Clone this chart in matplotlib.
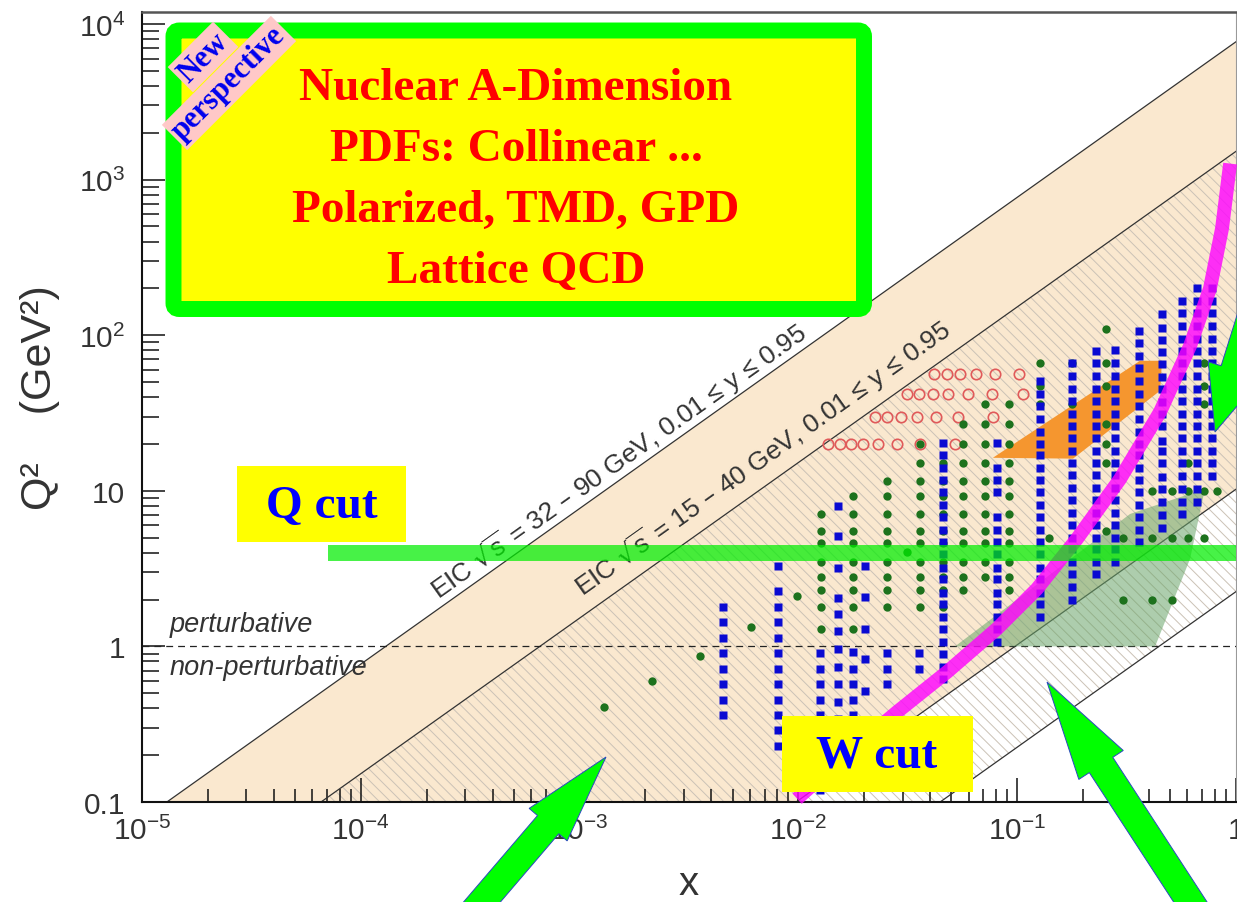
import numpy as np
import matplotlib.pyplot as plt
from matplotlib.patches import Polygon, Rectangle, FancyBboxPatch
from matplotlib.ticker import FixedLocator, FixedFormatter, LogLocator, NullFormatter

plt.rcParams['font.family'] = ['Liberation Sans', 'DejaVu Sans']
plt.rcParams['mathtext.default'] = 'regular'
plt.rcParams['hatch.linewidth'] = 0.7

# ---------------- data ----------------
sqrt_s_wide = [32, 90]      # GeV, outer EIC band
sqrt_s_narrow = [15, 40]    # GeV, inner EIC band
y_range = [0.01, 0.95]

# green dots: one column per x, list of Q^2 values
green_x = [0.00129, 0.00214, 0.00355, 0.00607, 0.0099, 0.0127, 0.0178, 0.0254,
           0.0313, 0.036, 0.046, 0.0565, 0.0713, 0.0918, 0.127, 0.14, 0.178,
           0.255, 0.305, 0.413, 0.509, 0.604, 0.714, 0.818]
green_q2 = [
    [0.41], [0.60], [0.87], [1.33], [2.1],
    [7.1, 5.5, 4.6, 3.5, 2.8, 2.3, 1.8, 1.3],
    [9.2, 7.1, 5.5, 4.6, 3.5, 2.8, 2.3, 1.8, 1.3],
    [11.6, 9.2, 7.1, 5.5, 4.6, 3.5, 2.8, 2.3, 1.8],
    [4.05],
    [20, 15, 11.6, 9.2, 7.1, 5.5, 4.6, 3.5, 2.8, 2.3, 1.8],
    [15, 11.6, 9.2, 7.1, 5.5, 4.6, 3.5, 2.8, 2.3, 1.8],
    [27, 20, 15, 11.6, 9.2, 7.1, 5.5, 4.6, 3.5, 2.8, 2.3],
    [36, 27, 20, 15, 11.6, 9.2, 7.1, 5.5, 4.6, 3.5, 2.8],
    [36, 27, 20, 15, 11.6, 9.2, 7.1, 5.5, 4.6, 3.5, 2.8, 2.3],
    [66, 47, 36],
    [5.0],
    [66, 36],
    [110, 66, 47, 27, 20, 15, 5.5],
    [5.0, 2.0],
    [10, 5.0, 2.0],
    [10, 5.0, 2.0],
    [15, 10, 5.0],
    [66, 47, 36, 10, 5.0],
    [10],
]

# blue squares
blue_x = [0.0045, 0.0081, 0.0126, 0.0152, 0.0178, 0.0201, 0.0254, 0.0356, 0.0458,
          0.0809, 0.127, 0.178, 0.229, 0.280, 0.361, 0.459, 0.566, 0.664, 0.776]
blue_q2 = [
    [1.79, 1.44, 1.13, 0.91, 0.72, 0.57, 0.45, 0.36],
    [3.3, 2.27, 1.79, 1.44, 1.13, 0.91, 0.72, 0.57, 0.45, 0.36, 0.29, 0.23],
    [0.91, 0.72, 0.57, 0.45, 0.36, 0.29, 0.23, 0.19, 0.15, 0.12],
    [8.0, 5.1, 3.2, 2.05, 1.62, 1.26, 0.96, 0.74, 0.57, 0.44, 0.34, 0.25, 0.19, 0.14],
    [0.92, 0.72, 0.57, 0.45, 0.36, 0.29, 0.23, 0.19, 0.15],
    [3.3, 2.08, 1.30, 0.83, 0.52],
    [0.91, 0.72, 0.57],
    [0.91, 0.72],
    [20.4, 17.0, 14.1, 11.7, 9.8, 8.1, 6.8, 5.6, 4.7, 3.9, 3.2, 2.7, 2.2, 1.86,
     1.55, 1.29, 1.07, 0.89, 0.74, 0.62],
    [20.4, 14.1, 11.7, 9.8, 6.8, 5.6, 4.7, 3.9, 3.2, 2.7, 2.2, 1.86, 1.55, 1.29, 1.07],
    [51, 42, 35, 29, 24, 20, 17, 14, 11.7, 9.8, 8.1, 6.8, 5.6, 4.7, 3.9, 3.2,
     2.7, 2.2, 1.86, 1.55],
    [66, 55, 45, 38, 31, 26, 22, 18, 15, 12.6, 10.5, 8.7, 7.2, 6.0, 5.0, 4.2,
     3.5, 2.9, 2.4, 2.0],
    [79, 66, 55, 45, 38, 31, 26, 22, 18, 15, 12.6, 10.5, 8.7, 7.2, 6.0, 5.0, 4.2, 3.5, 2.9],
    [80, 66, 55, 45, 38, 31, 26, 22, 18, 15, 12.6, 10.5, 8.7, 7.2, 6.0, 5.0, 4.2, 3.5],
    [107, 89, 74, 62, 51, 42, 35, 29, 24, 20, 17, 14, 11.7, 9.8, 8.1, 6.8, 5.6, 4.7],
    [137, 112, 93, 78, 65, 54, 45, 37, 31, 26, 21, 18, 15, 12.3, 10.2, 8.5, 7.0, 5.8],
    [166, 138, 115, 95, 79, 66, 55, 45, 38, 31, 26, 22, 18, 15, 12.4, 10.3, 8.5, 7.1],
    [200, 166, 138, 115, 95, 79, 66, 55, 45, 38, 31, 26, 22, 18, 15, 12.4, 10.3, 8.5],
    [200, 166, 138, 115, 95, 79, 66, 55, 45, 38, 31, 26, 22, 18, 15, 12.5],
]

# red open circles: one row per Q^2
red_q2 = [20, 30, 42, 56]
red_x = [
    [0.0136, 0.0155, 0.0174, 0.0197, 0.0231, 0.0282, 0.036, 0.052],
    [0.0224, 0.0254, 0.0294, 0.0348, 0.0426, 0.0536, 0.0775],
    [0.0313, 0.0356, 0.0412, 0.0483, 0.0596, 0.0767, 0.106],
    [0.0417, 0.0478, 0.0547, 0.0649, 0.079, 0.102],
]

orange_x = [0.0774, 0.364, 0.459, 0.450, 0.180]
orange_q2 = [16.3, 68.5, 68.5, 44, 16.1]

gshade_x = [0.052, 0.328, 0.721, 0.617, 0.427]
gshade_q2 = [1.0, 7.1, 10.3, 3.66, 1.0]

wcut_x = [0.00986, 0.01633, 0.02825, 0.0478, 0.0809, 0.123, 0.1875, 0.295,
          0.450, 0.617, 0.760, 0.863, 0.940]
wcut_q2 = [0.105, 0.198, 0.379, 0.685, 1.30, 2.34, 4.91, 11.9, 32.2, 85.5, 199, 484, 1268]

qcut_q2 = 4.0
qcut_xmin = 7.1e-5

x_ticks = [1e-5, 1e-4, 1e-3, 1e-2, 1e-1, 1]
x_ticklabels = [r'$10^{-5}$', r'$10^{-4}$', r'$10^{-3}$', r'$10^{-2}$', r'$10^{-1}$', '1']
y_ticks = [0.1, 1, 10, 100, 1000, 10000]
y_ticklabels = ['0.1', '1', '10', r'$10^{2}$', r'$10^{3}$', r'$10^{4}$']

box_lines = ['Nuclear A-Dimension', 'PDFs: Collinear ...', 'Polarized, TMD, GPD', 'Lattice QCD']

# ---------------- figure ----------------
W, H = 1237, 903
fig = plt.figure(figsize=(W / 100, H / 100), dpi=100)
ax = fig.add_axes([142 / W, 1 - 803 / H, 1094 / W, 790 / H])
ax.set_xscale('log')
ax.set_yscale('log')
ax.set_xlim(1e-5, 1)
ax.set_ylim(0.1, 11950)

tan = '#fae8cf'
xx = np.array([1e-6, 2.0])
s_w = np.array(sqrt_s_wide) ** 2
s_n = np.array(sqrt_s_narrow) ** 2
ax.fill_between(xx, y_range[0] * s_w[0] * xx, y_range[1] * s_w[1] * xx,
                facecolor=tan, edgecolor='none', zorder=1)
ax.fill_between(xx, y_range[0] * s_n[0] * xx, y_range[1] * s_n[1] * xx,
                facecolor='none', edgecolor='#cbc2b6', linewidth=0,
                hatch='\\\\\\', zorder=1.5)
for c in [y_range[0] * s_w[0], y_range[1] * s_w[1], y_range[0] * s_n[0], y_range[1] * s_n[1]]:
    ax.plot(xx, c * xx, color='#333333', lw=0.9, zorder=2)

ax.axhline(1, color='#222222', lw=0.9, ls=(0, (5.5, 4)), zorder=2)

ax.add_patch(Polygon(np.column_stack([orange_x, orange_q2]), closed=True,
                     facecolor='#f5962f', edgecolor='none', zorder=2.5))
ax.add_patch(Polygon(np.column_stack([gshade_x, gshade_q2]), closed=True,
                     facecolor='#6aa56a', edgecolor='none', alpha=0.55, zorder=2.5))

gx = [x for x, qs in zip(green_x, green_q2) for _ in qs]
gq = [q for qs in green_q2 for q in qs]
bx = [x for x, qs in zip(blue_x, blue_q2) for _ in qs]
bq = [q for qs in blue_q2 for q in qs]
rx = [x for xs in red_x for x in xs]
rq = [q for q, xs in zip(red_q2, red_x) for _ in xs]

ax.plot(rx, rq, 'o', ms=7.5, mfc='none', mec='#e05a5a', mew=1.2, zorder=3)
ax.plot(bx, bq, 's', ms=5.8, color='#0a0ad2', mec='none', zorder=3.2)
ax.plot(gx, gq, 'o', ms=6.0, color='#1d721d', mec='none', zorder=3.1)

ax.text(0.0016, 14.1, r'EIC $\sqrt{s}$ = 32 – 90 GeV, 0.01 ≤ y ≤ 0.95', rotation=35.4,
        rotation_mode='anchor', ha='center', va='baseline', fontsize=19, color='#333333', zorder=3)
ax.text(0.00726, 14.7, r'EIC $\sqrt{s}$ = 15 – 40 GeV, 0.01 ≤ y ≤ 0.95', rotation=35.4,
        rotation_mode='anchor', ha='center', va='baseline', fontsize=19, color='#333333', zorder=3)
ax.text(1.34e-5, 1.26, 'perturbative', style='italic', fontsize=19.5, color='#333333',
        va='baseline', zorder=3)
ax.text(1.34e-5, 0.665, 'non-perturbative', style='italic', fontsize=19.5, color='#333333',
        va='baseline', zorder=3)

ax.plot(wcut_x, wcut_q2, color='#ff00ff', alpha=0.8, lw=10, solid_capstyle='butt',
        clip_on=False, zorder=6)
ax.plot([qcut_xmin, 1], [qcut_q2, qcut_q2], color='#00ee00', alpha=0.72, lw=11.5,
        solid_capstyle='butt', clip_on=False, zorder=7)

# axes styling
ax.xaxis.set_major_locator(FixedLocator(x_ticks))
ax.xaxis.set_major_formatter(FixedFormatter(x_ticklabels))
ax.yaxis.set_major_locator(FixedLocator(y_ticks))
ax.yaxis.set_major_formatter(FixedFormatter(y_ticklabels))
ax.xaxis.set_minor_locator(LogLocator(base=10, subs=np.arange(2, 10), numticks=20))
ax.yaxis.set_minor_locator(LogLocator(base=10, subs=np.arange(2, 10), numticks=20))
ax.xaxis.set_minor_formatter(NullFormatter())
ax.yaxis.set_minor_formatter(NullFormatter())
ax.tick_params(which='both', direction='in', top=False, right=False, width=1.1,
               colors='#111111', labelcolor='#333333', labelsize=21.5)
ax.tick_params(axis='y', which='major', length=16.5, pad=12)
ax.tick_params(axis='y', which='minor', length=12)
ax.tick_params(axis='x', which='major', length=17, pad=10)
ax.tick_params(axis='x', which='minor', length=9.5)
for side in ['left', 'bottom']:
    ax.spines[side].set_linewidth(1.5)
    ax.spines[side].set_color('#111111')
ax.spines['top'].set_linewidth(1.8)
ax.spines['top'].set_color('#555555')
ax.spines['right'].set_linewidth(0.8)
ax.spines['right'].set_color('#999999')

ax.set_xlabel('x', fontsize=29, color='#333333')
ax.xaxis.set_label_coords(0.5, (803 - 895) / 790)
ax.xaxis.label.set_verticalalignment('baseline')
ax.set_ylabel('Q²    (GeV²)', fontsize=31, color='#333333')
ax.yaxis.set_label_coords((40 - 142) / 1094, (803 - 398) / 790)
ax.yaxis.label.set_verticalalignment('center')

# ---------------- overlay (slide annotations, pixel coords) ----------------
ov = fig.add_axes([0, 0, 1, 1], zorder=10)
ov.set_xlim(0, W)
ov.set_ylim(H, 0)
ov.axis('off')
ov.patch.set_visible(False)

serif = ['Liberation Serif', 'DejaVu Serif']

ov.add_patch(FancyBboxPatch((173.5, 31.5), 690.5, 278.5, boxstyle='round,pad=0,rounding_size=6',
                            facecolor='#ffff00', edgecolor='#00ff00', linewidth=11.5))
for line, yb in zip(box_lines, [100, 161, 222, 283]):
    ov.text(516, yb, line, ha='center', va='baseline', fontsize=34, fontweight='bold',
            family=serif, color='#ff0000')

pink = dict(facecolor='#ffc8c8', edgecolor='none', pad=2.5)
ov.text(203, 58, 'New', rotation=45, rotation_mode='anchor', ha='center', va='center',
        fontsize=22, fontweight='bold', family=serif, color='#0000ee', bbox=pink)
ov.text(229, 84, 'perspective', rotation=45, rotation_mode='anchor', ha='center', va='center',
        fontsize=22, fontweight='bold', family=serif, color='#0000ee', bbox=pink)

ov.add_patch(Rectangle((237, 467), 169, 76, facecolor='#ffff00', edgecolor='none'))
ov.text(322, 518, 'Q cut', ha='center', va='baseline', fontsize=34, fontweight='bold',
        family=serif, color='#0000ff')
ov.add_patch(Rectangle((782, 717), 191, 76, facecolor='#ffff00', edgecolor='none'))
ov.text(877, 768, 'W cut', ha='center', va='baseline', fontsize=34, fontweight='bold',
        family=serif, color='#0000ff')


def arrow_shape(tip, d, head_len, head_w, shaft_w, shaft_len):
    d = np.asarray(d, float)
    d = d / np.hypot(*d)
    p = np.array([-d[1], d[0]])
    tip = np.asarray(tip, float)
    base = tip - head_len * d
    tail = base - shaft_len * d
    hw, sw = head_w / 2, shaft_w / 2
    return [tip, base + hw * p, base + sw * p, tail + sw * p,
            tail - sw * p, base - sw * p, base - hw * p]


for tip, d, hl, hw in [((606, 758), (0.65, -0.76), 89, 50),
                       ((1047, 683), (-0.546, -0.838), 99, 53),
                       ((1215, 433), (-0.3, 0.954), 65, 55)]:
    ov.add_patch(Polygon(arrow_shape(tip, d, hl, hw, 28, 260), closed=True,
                         facecolor='#00ff00', edgecolor='#2a48c0', linewidth=0.7))

fig.savefig('out.png', dpi=100)
